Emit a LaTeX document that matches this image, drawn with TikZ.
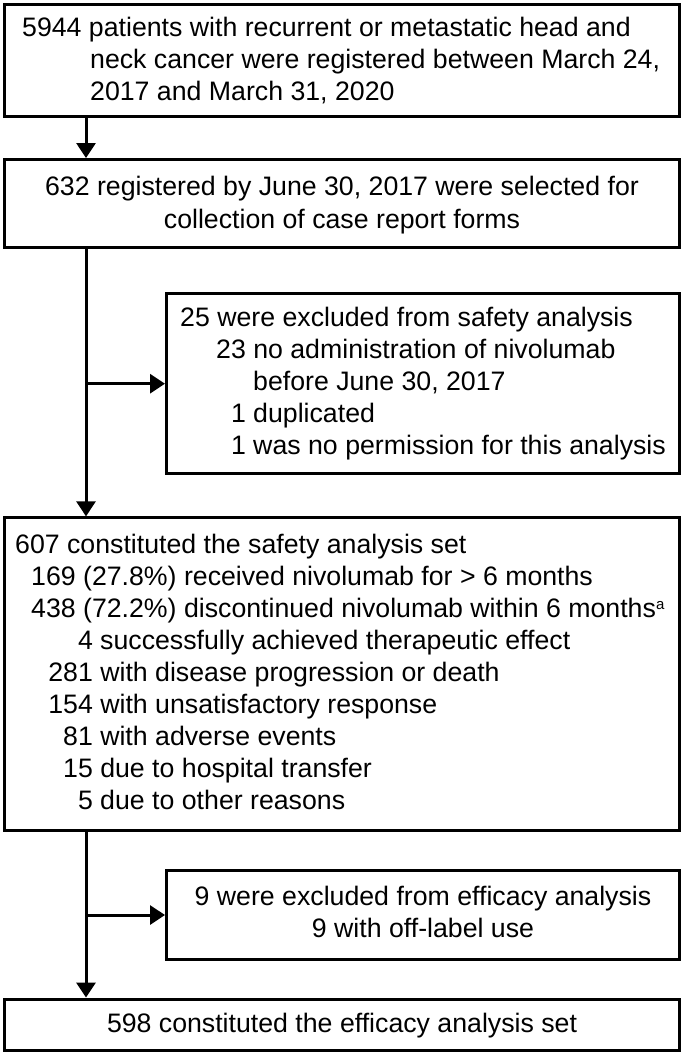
\documentclass[tikz,border=0pt]{standalone}
\usepackage{fontspec}
\setmainfont{Liberation Sans}
\usetikzlibrary{arrows.meta}
\begin{document}
\begin{tikzpicture}[x=1pt,y=-1pt,
  box/.style={draw, line width=3pt, inner sep=0pt},
  txt/.style={anchor=base west, inner sep=0pt, font={\fontsize{26.7pt}{32pt}\selectfont}},
  ctxt/.style={anchor=base, inner sep=0pt, font={\fontsize{26.7pt}{32pt}\selectfont}},
  arr/.style={line width=3pt, -{Triangle[length=15pt,width=19pt]}}]
\useasboundingbox (0,0) rectangle (685,1055);
% boxes
\node[box, minimum width=675pt, minimum height=112pt] (b1) at (342,60.5) {};
\node[box, minimum width=675pt, minimum height=88pt] (b2) at (342,203.5) {};
\node[box, minimum width=513pt, minimum height=179.5pt] (b3) at (423,383.7) {};
\node[box, minimum width=675pt, minimum height=312.3pt] (b4) at (342,674) {};
\node[box, minimum width=513pt, minimum height=88.6pt] (b5) at (423,915) {};
\node[box, minimum width=675pt, minimum height=51pt] (b6) at (342,1024.5) {};
% box 1 text
\node[txt] (t1a) at (22,36) {5944 patients with recurrent or metastatic head and};
\node[txt] (t1b) at (90,68) {neck cancer were registered between March 24,};
\node[txt] (t1c) at (90,100) {2017 and March 31, 2020};
% box 2 text
\node[ctxt] (t2a) at (342,195) {632 registered by June 30, 2017 were selected for};
\node[ctxt] (t2b) at (342,228) {collection of case report forms};
% box 3 text
\node[txt] (t3a) at (180,326) {25 were excluded from safety analysis};
\node[txt] (t3b) at (216,358) {23 no administration of nivolumab};
\node[txt] (t3c) at (253,390) {before June 30, 2017};
\node[txt] (t3d) at (230.8,422) {1 duplicated};
\node[txt] (t3e) at (230.8,454) {1 was no permission for this analysis};
% box 4 text
\node[txt] (t4a) at (15,553) {607 constituted the safety analysis set};
\node[txt] (t4b) at (31,585) {169 (27.8\%) received nivolumab for > 6 months};
\node[txt] (t4c) at (31,617) {438 (72.2\%) discontinued nivolumab within 6 months\raisebox{8pt}{\fontsize{15pt}{15pt}\selectfont a}};
\node[txt] (t4d) at (77.8,649) {4 successfully achieved therapeutic effect};
\node[txt] (t4e) at (48.2,681) {281 with disease progression or death};
\node[txt] (t4f) at (48.2,713) {154 with unsatisfactory response};
\node[txt] (t4g) at (63,745) {81 with adverse events};
\node[txt] (t4h) at (63,777) {15 due to hospital transfer};
\node[txt] (t4i) at (77.8,809) {5 due to other reasons};
% box 5 text
\node[ctxt] (t5a) at (423,905) {9 were excluded from efficacy analysis};
\node[ctxt] (t5b) at (423,937) {9 with off-label use};
% box 6 text
\node[ctxt] (t6a) at (342,1032) {598 constituted the efficacy analysis set};
% connectors
\coordinate (ax) at (86,0);
\draw[arr] (b1.south -| ax) -- (b2.north -| ax);
\draw[arr] (b2.south -| ax) -- (b4.north -| ax);
\draw[arr] (ax |- b3.west) -- (b3.west);
\draw[arr] (b4.south -| ax) -- (b6.north -| ax);
\draw[arr] (ax |- b5.west) -- (b5.west);
\end{tikzpicture}
\end{document}
